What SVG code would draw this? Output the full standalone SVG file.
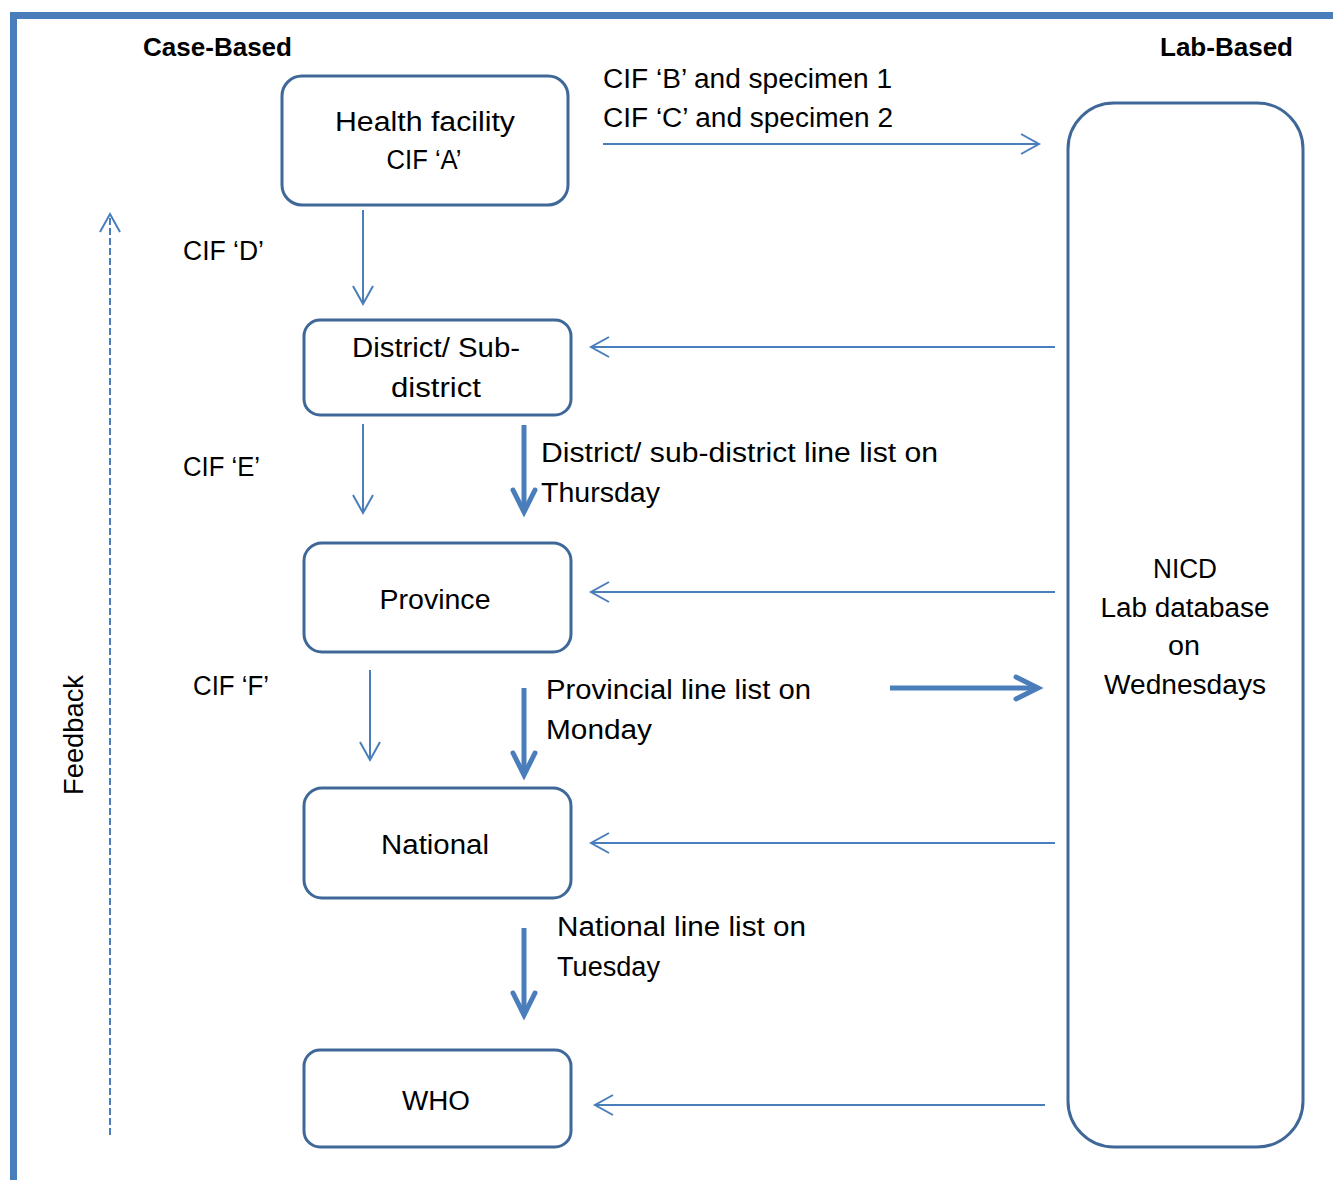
<svg xmlns="http://www.w3.org/2000/svg" width="1333" height="1180" viewBox="0 0 1333 1180">
<defs>
<style>
.box{fill:#fff;stroke:#3F6899;stroke-width:3}
.t{font-family:"Liberation Sans",Arial,sans-serif;font-size:27px;fill:#000}
.b{font-family:"Liberation Sans",Arial,sans-serif;font-size:25px;font-weight:bold;fill:#000}
.c{text-anchor:middle}
.thin{fill:none;stroke:#4A7EBB;stroke-width:2}
.thick{fill:none;stroke:#4A7EBB;stroke-width:5}
</style>
<marker id="ah" viewBox="-25 -15 30 30" refX="0" refY="0" markerWidth="30" markerHeight="30" markerUnits="userSpaceOnUse" orient="auto" overflow="visible">
<path d="M-18,-10 L0,0 L-18,10" fill="none" stroke="#4A7EBB" stroke-width="2"/>
</marker>
<marker id="ahb" viewBox="-30 -20 35 40" refX="0" refY="0" markerWidth="35" markerHeight="40" markerUnits="userSpaceOnUse" orient="auto" overflow="visible">
<path d="M-22,-11 L0,0 L-22,11" fill="none" stroke="#4A7EBB" stroke-width="5" stroke-linecap="round"/>
</marker>
</defs>
<rect x="0" y="0" width="1333" height="1180" fill="#fff"/>
<path d="M13.5,1180 L13.5,15.5 L1333,15.5" fill="none" stroke="#4A7EBB" stroke-width="7"/>
<text class="b" x="143" y="56" textLength="149" lengthAdjust="spacingAndGlyphs">Case-Based</text>
<text class="b" x="1160" y="56" textLength="133" lengthAdjust="spacingAndGlyphs">Lab-Based</text>

<g id="connectors">
<line class="thin" x1="603" y1="144" x2="1039" y2="144" marker-end="url(#ah)"/>
<line class="thin" x1="363" y1="210" x2="363" y2="304" marker-end="url(#ah)"/>
<line class="thin" x1="1055" y1="347" x2="591" y2="347" marker-end="url(#ah)"/>
<line class="thin" x1="363" y1="424" x2="363" y2="513" marker-end="url(#ah)"/>
<line class="thick" x1="524" y1="425" x2="524" y2="512" marker-end="url(#ahb)"/>
<line class="thin" x1="1055" y1="592" x2="591" y2="592" marker-end="url(#ah)"/>
<line class="thin" x1="370" y1="670" x2="370" y2="760" marker-end="url(#ah)"/>
<line class="thick" x1="524" y1="688" x2="524" y2="775" marker-end="url(#ahb)"/>
<line class="thick" x1="890" y1="688" x2="1038" y2="688" marker-end="url(#ahb)"/>
<line class="thin" x1="1055" y1="843" x2="591" y2="843" marker-end="url(#ah)"/>
<line class="thick" x1="524" y1="928" x2="524" y2="1015" marker-end="url(#ahb)"/>
<line class="thin" x1="1045" y1="1105" x2="595" y2="1105" marker-end="url(#ah)"/>
<line class="thin" x1="110" y1="1135" x2="110" y2="214" stroke-dasharray="7 3" marker-end="url(#ah)"/>
</g>

<g id="labels">
<text class="t" x="603" y="88" textLength="289" lengthAdjust="spacingAndGlyphs">CIF ‘B’ and specimen 1</text>
<text class="t" x="603" y="127" textLength="290" lengthAdjust="spacingAndGlyphs">CIF ‘C’ and specimen 2</text>
<text class="t" x="183" y="260" textLength="81" lengthAdjust="spacingAndGlyphs">CIF ‘D’</text>
<text class="t" x="183" y="476" textLength="77" lengthAdjust="spacingAndGlyphs">CIF ‘E’</text>
<text class="t" x="193" y="695" textLength="76" lengthAdjust="spacingAndGlyphs">CIF ‘F’</text>
<text class="t" x="541" y="462" textLength="397" lengthAdjust="spacingAndGlyphs">District/ sub-district line list on</text>
<text class="t" x="541" y="502" textLength="119" lengthAdjust="spacingAndGlyphs">Thursday</text>
<text class="t" x="546" y="699" textLength="265" lengthAdjust="spacingAndGlyphs">Provincial line list on</text>
<text class="t" x="546" y="739" textLength="106" lengthAdjust="spacingAndGlyphs">Monday</text>
<text class="t" x="557" y="936" textLength="249" lengthAdjust="spacingAndGlyphs">National line list on</text>
<text class="t" x="557" y="976" textLength="103" lengthAdjust="spacingAndGlyphs">Tuesday</text>
<text class="t" transform="translate(83,795) rotate(-90)" textLength="120" lengthAdjust="spacingAndGlyphs">Feedback</text>
</g>

<g id="health-facility">
<rect class="box" x="282" y="76" width="286" height="129" rx="20"/>
<text class="t c" x="425" y="131" textLength="180" lengthAdjust="spacingAndGlyphs">Health facility</text>
<text class="t c" x="424" y="169" textLength="75" lengthAdjust="spacingAndGlyphs">CIF ‘A’</text>
</g>
<g id="district">
<rect class="box" x="304" y="320" width="267" height="95" rx="16"/>
<text class="t c" x="436" y="357" textLength="168" lengthAdjust="spacingAndGlyphs">District/ Sub-</text>
<text class="t c" x="436" y="397" textLength="90" lengthAdjust="spacingAndGlyphs">district</text>
</g>
<g id="province">
<rect class="box" x="304" y="543" width="267" height="109" rx="18"/>
<text class="t c" x="435" y="609" textLength="111" lengthAdjust="spacingAndGlyphs">Province</text>
</g>
<g id="national">
<rect class="box" x="304" y="788" width="267" height="110" rx="18"/>
<text class="t c" x="435" y="854" textLength="108" lengthAdjust="spacingAndGlyphs">National</text>
</g>
<g id="who">
<rect class="box" x="304" y="1050" width="267" height="97" rx="16"/>
<text class="t c" x="436" y="1110" textLength="68" lengthAdjust="spacingAndGlyphs">WHO</text>
</g>
<g id="nicd">
<rect class="box" x="1068" y="103" width="235" height="1044" rx="46"/>
<text class="t c" x="1185" y="578" textLength="64" lengthAdjust="spacingAndGlyphs">NICD</text>
<text class="t c" x="1185" y="617" textLength="169" lengthAdjust="spacingAndGlyphs">Lab database</text>
<text class="t c" x="1184" y="655" textLength="32" lengthAdjust="spacingAndGlyphs">on</text>
<text class="t c" x="1185" y="694" textLength="162" lengthAdjust="spacingAndGlyphs">Wednesdays</text>
</g>
</svg>
